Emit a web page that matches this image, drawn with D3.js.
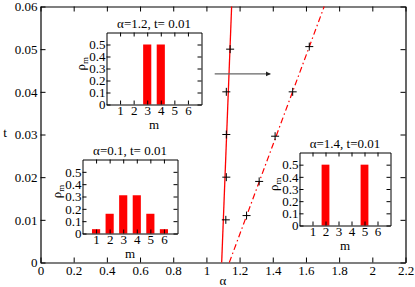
<!DOCTYPE html>
<html>
<head>
<meta charset="utf-8">
<script src="https://cdn.jsdelivr.net/npm/d3@7.9.0/dist/d3.min.js"></script>
<style>
  body { margin: 0; background: #fff; }
</style>
</head>
<body>
<svg id="chart" xmlns="http://www.w3.org/2000/svg"></svg>
<script>
// main panel data
const alphaTicks = [0, 0.2, 0.4, 0.6, 0.8, 1.0, 1.2, 1.4, 1.6, 1.8, 2.0, 2.2];
const tTicks = [0, 0.01, 0.02, 0.03, 0.04, 0.05, 0.06];

const solidLineAlpha = [1.092, 1.152];
const solidLineT = [0, 0.06];
const dashLineAlpha = [1.138, 1.71];
const dashLineT = [0, 0.06];

const solidPtsAlpha = [1.117, 1.12, 1.12, 1.12, 1.143];
const solidPtsT = [0.01, 0.02, 0.03, 0.04, 0.05];
const dashPtsAlpha = [1.242, 1.318, 1.414, 1.52, 1.62];
const dashPtsT = [0.011, 0.019, 0.0296, 0.04, 0.0506];

const arrowAlpha = [1.05, 1.385];
const arrowT = [0.0442, 0.0442];

// inset data
const mTicks = [1, 2, 3, 4, 5, 6];
const rhoTicks = [0, 0.1, 0.2, 0.3, 0.4, 0.5];
const rhoAlpha01 = [0.035, 0.16, 0.31, 0.31, 0.16, 0.035];
const rhoAlpha12 = [0, 0, 0.5, 0.5, 0, 0];
const rhoAlpha14 = [0, 0.5, 0, 0, 0.5, 0];

const W = 415, H = 287;
const FONT = "Liberation Serif";
const FS = 13;

const svg = d3.select("#chart").attr("width", W).attr("height", H);

const x = d3.scaleLinear().domain([0, 2.2]).range([40.5, 405.5]);
const y = d3.scaleLinear().domain([0, 0.06]).range([262.5, 6.5]);

function styleAxis(g, sw) {
    g.attr("font-family", FONT).attr("font-size", FS);
    g.selectAll(".domain").attr("stroke", "#000").attr("stroke-width", sw);
    g.selectAll(".tick line").attr("stroke", "#000");
    g.selectAll(".tick text").attr("font-family", FONT).attr("font-size", FS).attr("fill", "#000");
}

function label(parent, tx, ty, str) {
    return parent.append("text")
        .attr("x", tx)
        .attr("y", ty)
        .attr("text-anchor", "middle")
        .attr("font-family", FONT)
        .attr("font-size", FS)
        .attr("fill", "#000")
        .text(str);
}

// axes, ticks pointing inward
styleAxis(svg.append("g")
    .attr("transform", `translate(0, ${y(0)})`)
    .call(d3.axisBottom(x).tickValues(alphaTicks).tickSize(-5).tickSizeOuter(0).tickPadding(3)
        .tickFormat(d => String(+d.toFixed(1)))), 1.2);
styleAxis(svg.append("g")
    .attr("transform", `translate(0, ${y(0.06)})`)
    .call(d3.axisTop(x).tickValues(alphaTicks).tickSize(-5).tickSizeOuter(0).tickFormat("")), 1.2);
styleAxis(svg.append("g")
    .attr("transform", `translate(${x(0)}, 0)`)
    .call(d3.axisLeft(y).tickValues(tTicks).tickSize(-5).tickSizeOuter(0).tickPadding(3)
        .tickFormat(d => String(+d.toFixed(2)))), 1.2);
styleAxis(svg.append("g")
    .attr("transform", `translate(${x(2.2)}, 0)`)
    .call(d3.axisRight(y).tickValues(tTicks).tickSize(-5).tickSizeOuter(0).tickFormat("")), 1.2);

label(svg, (x(0) + x(2.2)) / 2, 285, "α");
label(svg, 5, 137, "t");

// lines
const line = d3.line().x(d => x(d[0])).y(d => y(d[1]));

svg.append("path")
    .datum(d3.zip(solidLineAlpha, solidLineT))
    .attr("d", line)
    .attr("fill", "none")
    .attr("stroke", "#ff0000")
    .attr("stroke-width", 1.3);

svg.append("path")
    .datum(d3.zip(dashLineAlpha, dashLineT))
    .attr("d", line)
    .attr("fill", "none")
    .attr("stroke", "#ff0000")
    .attr("stroke-width", 1.2)
    .attr("stroke-dasharray", "6,3,1.5,3");

// plus markers
const pts = d3.zip(solidPtsAlpha, solidPtsT).concat(d3.zip(dashPtsAlpha, dashPtsT));
svg.selectAll("path.plus")
    .data(pts)
    .enter()
    .append("path")
    .attr("class", "plus")
    .attr("transform", d => `translate(${x(d[0])}, ${y(d[1])})`)
    .attr("d", "M-4,0H4M0,-4V4")
    .attr("stroke", "#000")
    .attr("stroke-width", 1);

// arrow
svg.append("defs").append("marker")
    .attr("id", "head")
    .attr("viewBox", "0 0 10 10")
    .attr("refX", 9)
    .attr("refY", 5)
    .attr("markerWidth", 4)
    .attr("markerHeight", 4)
    .attr("orient", "auto")
    .append("path")
    .attr("d", "M0,0L10,5L0,10z")
    .attr("fill", "#222");

svg.append("path")
    .datum(d3.zip(arrowAlpha, arrowT))
    .attr("d", line)
    .attr("stroke", "#666")
    .attr("stroke-width", 1.3)
    .attr("marker-end", "url(#head)");

// insets
function drawInset(left, top, right, bottom, values, title) {
    const g = svg.append("g");
    const xs = d3.scaleLinear().domain([0, 7]).range([left, right]);
    const ys = d3.scaleLinear().domain([0, 0.6]).range([bottom, top]);

    g.append("rect")
        .attr("x", left).attr("y", top)
        .attr("width", right - left).attr("height", bottom - top)
        .attr("fill", "#fff");

    const bars = d3.zip(mTicks, values).filter(d => d[1] > 0);
    g.selectAll("rect.bar")
        .data(bars)
        .enter()
        .append("rect")
        .attr("class", "bar")
        .attr("x", d => xs(d[0] - 0.3))
        .attr("width", xs(0.6) - xs(0))
        .attr("y", d => ys(d[1]))
        .attr("height", d => ys(0) - ys(d[1]))
        .attr("fill", "#ff0000");

    styleAxis(g.append("g").attr("transform", `translate(0, ${bottom})`)
        .call(d3.axisBottom(xs).tickValues(mTicks).tickSize(-4).tickSizeOuter(0).tickPadding(1)
            .tickFormat(d => String(d))), 1);
    styleAxis(g.append("g").attr("transform", `translate(0, ${top})`)
        .call(d3.axisTop(xs).tickValues(mTicks).tickSize(-4).tickSizeOuter(0).tickFormat("")), 1);
    styleAxis(g.append("g").attr("transform", `translate(${left}, 0)`)
        .call(d3.axisLeft(ys).tickValues(rhoTicks).tickSize(-4).tickSizeOuter(0).tickPadding(1)
            .tickFormat(d => String(+d.toFixed(1)))), 1);
    styleAxis(g.append("g").attr("transform", `translate(${right}, 0)`)
        .call(d3.axisRight(ys).tickValues(rhoTicks).tickSize(-4).tickSizeOuter(0).tickFormat("")), 1);

    label(g, (left + right) / 2, top - 5, title);
    label(g, (left + right) / 2, bottom + 24, "m");

    const yl = label(g, 0, 0, null)
        .attr("x", null).attr("y", null)
        .attr("transform", `translate(${left - 22}, ${ys(0.34)}) rotate(-90)`);
    yl.append("tspan").text("ρ");
    yl.append("tspan").attr("dy", 3).attr("font-size", 9).text("m");
}

drawInset(106.5, 32.5, 201.5, 104.5, rhoAlpha12, "α=1.2, t= 0.01");
drawInset(82.5, 159.5, 177.5, 233.5, rhoAlpha01, "α=0.1, t= 0.01");
drawInset(299.5, 152.5, 390.5, 225.5, rhoAlpha14, "α=1.4, t=0.01");
</script>
</body>
</html>
